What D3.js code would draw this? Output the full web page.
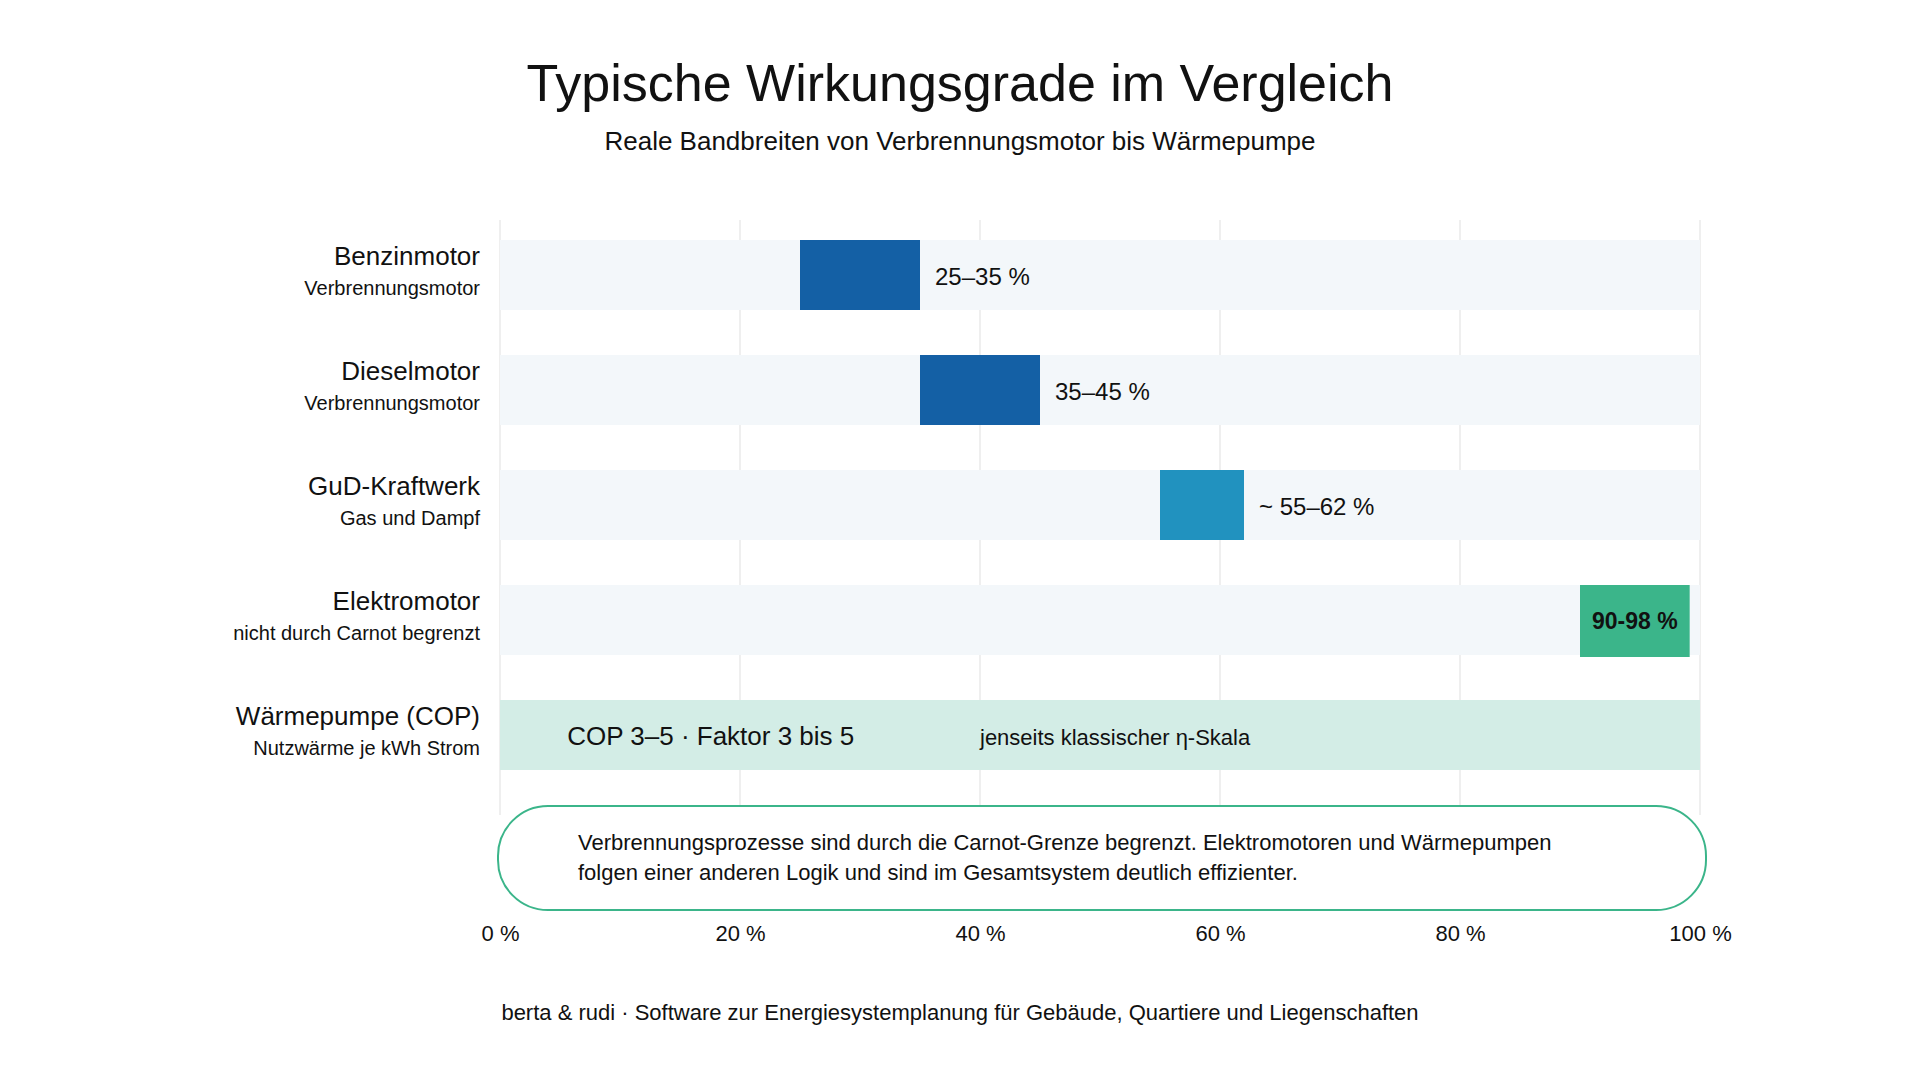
<!DOCTYPE html>
<html lang="de">
<head>
<meta charset="utf-8">
<script src="https://cdn.jsdelivr.net/npm/d3@7"></script>
<style>
  html, body { margin: 0; padding: 0; background: #fff; }
  svg text { font-family: "Liberation Sans", Arial, sans-serif; fill: #111; }
</style>
</head>
<body>
<div id="chart"></div>
<script>
// Daten
const names = ["Benzinmotor", "Dieselmotor", "GuD-Kraftwerk", "Elektromotor", "Wärmepumpe (COP)"];
const subs = ["Verbrennungsmotor", "Verbrennungsmotor", "Gas und Dampf", "nicht durch Carnot begrenzt", "Nutzwärme je kWh Strom"];
const lows = [25, 35, 55, 90, null];
const highs = [35, 45, 62, 98, null];
const valueLabels = ["25–35 %", "35–45 %", "~ 55–62 %", "90-98 %", null];
const barColors = ["#1460a5", "#1460a5", "#2192bf", "#3bb58a", null];
const ticks = [0, 20, 40, 60, 80, 100];
const copText = "COP 3–5 · Faktor 3 bis 5";
const copNote = "jenseits klassischer η-Skala";
const noteLines = [
    "Verbrennungsprozesse sind durch die Carnot-Grenze begrenzt. Elektromotoren und Wärmepumpen",
    "folgen einer anderen Logik und sind im Gesamtsystem deutlich effizienter."
];

const width = 1920;
const height = 1080;

const svg = d3.select("#chart").append("svg")
    .attr("width", width)
    .attr("height", height);

const x = d3.scaleLinear().domain([0, 100]).range([500, 1700]);
const y = d3.scaleBand()
    .domain(names)
    .range([240, 770])
    .paddingInner(45 / 115)
    .paddingOuter(0);

// Titel
svg.append("text")
    .attr("x", 960).attr("y", 101)
    .attr("text-anchor", "middle")
    .attr("font-size", 52)
    .text("Typische Wirkungsgrade im Vergleich");

svg.append("text")
    .attr("x", 960).attr("y", 150)
    .attr("text-anchor", "middle")
    .attr("font-size", 26)
    .text("Reale Bandbreiten von Verbrennungsmotor bis Wärmepumpe");

// Gitterlinien
svg.append("g")
    .selectAll("line")
    .data(ticks)
    .join("line")
    .attr("x1", d => x(d)).attr("x2", d => x(d))
    .attr("y1", 220).attr("y2", 815)
    .attr("stroke", "#efefef")
    .attr("stroke-width", 2);

const rows = names.map((n, i) => ({
    name: n, sub: subs[i], lo: lows[i], hi: highs[i],
    label: valueLabels[i], color: barColors[i]
}));

// Hintergrund-Spuren
svg.append("g")
    .selectAll("rect")
    .data(rows)
    .join("rect")
    .attr("x", x(0))
    .attr("y", d => y(d.name))
    .attr("width", x(100) - x(0))
    .attr("height", y.bandwidth())
    .attr("fill", d => d.lo === null ? "#d3ede6" : "#f3f7fa");

// Beschriftung links
const lab = svg.append("g")
    .selectAll("g")
    .data(rows)
    .join("g")
    .attr("transform", d => `translate(480,${y(d.name) + y.bandwidth() / 2})`);

lab.append("text")
    .attr("y", -10)
    .attr("text-anchor", "end")
    .attr("font-size", 26)
    .text(d => d.name);

lab.append("text")
    .attr("y", 20)
    .attr("text-anchor", "end")
    .attr("font-size", 20)
    .text(d => d.sub);

// Balken
const bars = rows.filter(d => d.lo !== null);
const inside = d => d.hi > 90;

const barG = svg.append("g")
    .selectAll("g")
    .data(bars)
    .join("g");

barG.each(function (d) {
    const g = d3.select(this);
    const cy = y(d.name) + y.bandwidth() / 2;
    if (inside(d)) {
        // Label im Balken, Balken mindestens so breit wie das Label
        const t = g.append("text")
            .attr("font-family", "'Open Sans', 'Noto Sans', sans-serif")
            .attr("font-weight", 700)
            .attr("font-size", 23)
            .attr("text-anchor", "middle")
            .attr("dominant-baseline", "central")
            .text(d.label);
        const tw = t.node().getComputedTextLength();
        const w = Math.max(x(d.hi) - x(d.lo), tw + 24);
        g.insert("rect", "text")
            .attr("x", x(d.lo))
            .attr("y", y(d.name))
            .attr("width", w)
            .attr("height", y.bandwidth() + 2)
            .attr("fill", d.color);
        t.attr("x", x(d.lo) + w / 2).attr("y", cy + 1);
    } else {
        g.append("rect")
            .attr("x", x(d.lo))
            .attr("y", y(d.name))
            .attr("width", x(d.hi) - x(d.lo))
            .attr("height", y.bandwidth())
            .attr("fill", d.color);
        g.append("text")
            .attr("x", x(d.hi) + 15)
            .attr("y", cy + 1)
            .attr("dominant-baseline", "central")
            .attr("font-size", 24)
            .text(d.label);
    }
});

// Wärmepumpe-Zeile
const wp = names[4];
const wpY = y(wp) + y.bandwidth() / 2;
svg.append("text")
    .attr("x", x(5.6))
    .attr("y", wpY + 1)
    .attr("dominant-baseline", "central")
    .attr("font-size", 26)
    .text(copText);

svg.append("text")
    .attr("x", x(40))
    .attr("y", wpY + 2)
    .attr("dominant-baseline", "central")
    .attr("font-size", 22)
    .text(copNote);

// Hinweisbox
svg.append("rect")
    .attr("x", 498).attr("y", 806)
    .attr("width", 1208).attr("height", 104)
    .attr("rx", 50).attr("ry", 50)
    .attr("fill", "#fff")
    .attr("stroke", "#3bb58a")
    .attr("stroke-width", 2);

svg.append("text")
    .attr("font-family", "Lato, sans-serif")
    .attr("font-size", 22)
    .attr("fill", "#222")
    .selectAll("tspan")
    .data(noteLines)
    .join("tspan")
    .attr("x", 578)
    .attr("y", (d, i) => 850 + i * 30)
    .text(d => d);

// Achse
const axis = svg.append("g")
    .attr("transform", "translate(0,922)")
    .call(d3.axisBottom(x).tickValues(ticks).tickSize(0).tickPadding(3).tickFormat(d => d + " %"));
axis.select(".domain").remove();
axis.selectAll("text")
    .attr("font-family", "'Liberation Sans', Arial, sans-serif")
    .attr("font-size", 22)
    .attr("fill", "#111");

// Fußzeile
svg.append("text")
    .attr("x", 960).attr("y", 1020)
    .attr("text-anchor", "middle")
    .attr("font-size", 22)
    .text("berta & rudi · Software zur Energiesystemplanung für Gebäude, Quartiere und Liegenschaften");
</script>
</body>
</html>
